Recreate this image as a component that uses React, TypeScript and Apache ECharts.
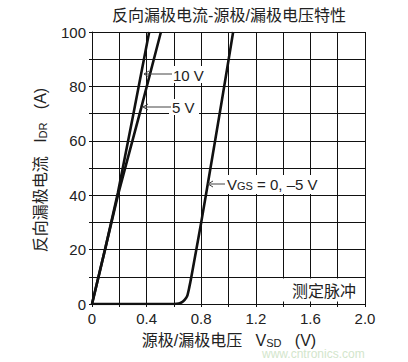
import React, { useEffect, useRef } from 'react';
import * as echarts from 'echarts';

// Reverse drain current I_DR (A) vs source-drain voltage V_SD (V)
const vsd10V = [0, 0.1, 0.19, 0.3, 0.419];
const idr10V = [0, 21, 41, 69, 100];

const vsd5V = [0, 0.1, 0.19, 0.36, 0.505];
const idr5V = [0, 21, 40, 72, 100];

const vsd0V = [0, 0.6, 0.635, 0.66, 0.68, 0.697, 0.713, 0.728, 0.8, 0.868, 0.952, 1.034];
const idr0V = [0, 0, 0.15, 0.7, 1.6, 2.9, 6.2, 10, 30, 50, 75, 100];

const xTickLabels = ['0', '0.4', '0.8', '1.2', '1.6', '2.0'];
const yTickLabels = ['0', '20', '40', '60', '80', '100'];

const FONT = "'Liberation Sans', Arial, 'Noto Sans CJK SC', sans-serif";
const TXT = '#222';

const pair = (xs: number[], ys: number[]) => xs.map((x, i) => [x, ys[i]]);

export default function App() {
  const ref = useRef<HTMLDivElement>(null);
  useEffect(() => {
    document.body.style.margin = '0';
    if (!ref.current) return;
    const chart = echarts.init(ref.current, null, { renderer: 'svg' });
    const lineStyle = { color: '#111', width: 2.6 };
    const arrow = (x1: number, x2: number, y: number) => [
      { type: 'line', shape: { x1, y1: y, x2, y2: y }, style: { stroke: '#444', lineWidth: 1 }, z: 20 },
      { type: 'polyline', shape: { points: [[x2 + 5, y - 3], [x2, y], [x2 + 5, y + 3]] }, style: { stroke: '#444', lineWidth: 1, fill: null }, z: 20 },
    ];
    const bg = (x: number, y: number, w: number, h: number) => ({
      type: 'rect', shape: { x, y, width: w, height: h }, style: { fill: '#fff' }, z: 15,
    });
    const txt = (x: number, y: number, text: string, extra: any = {}) => ({
      type: 'text', x, y, z: 21,
      style: { text, font: `15px ${FONT}`, fill: TXT, align: 'left', verticalAlign: 'middle', ...extra },
    });
    const option: any = {
      animation: false,
      backgroundColor: '#fff',
      grid: { left: 92, top: 32, right: 43, bottom: 58, containLabel: false },
      xAxis: {
        type: 'value', min: 0, max: 2, interval: 0.4,
        axisLine: { show: true, lineStyle: { color: '#111', width: 1 } },
        axisTick: { show: true, length: 3, lineStyle: { color: '#111' } },
        minorTick: { show: true, splitNumber: 2, length: 3, lineStyle: { color: '#111' } },
        splitLine: { show: true, lineStyle: { color: '#111', width: 1 } },
        minorSplitLine: { show: true, lineStyle: { color: '#111', width: 1 } },
        axisLabel: {
          margin: 7, fontSize: 15, fontFamily: FONT, color: TXT,
          formatter: (v: number) => xTickLabels[Math.round(v / 0.4)] ?? '',
        },
      },
      yAxis: {
        type: 'value', min: 0, max: 100, interval: 20,
        axisLine: { show: true, lineStyle: { color: '#111', width: 1 } },
        axisTick: { show: true, length: 3, lineStyle: { color: '#111' } },
        minorTick: { show: true, splitNumber: 2, length: 3, lineStyle: { color: '#111' } },
        splitLine: { show: true, lineStyle: { color: '#111', width: 1 } },
        minorSplitLine: { show: true, lineStyle: { color: '#111', width: 1 } },
        axisLabel: {
          margin: 6, fontSize: 15, fontFamily: FONT, color: TXT,
          formatter: (v: number) => yTickLabels[Math.round(v / 20)] ?? '',
        },
      },
      series: [
        { name: '10 V', type: 'line', data: pair(vsd10V, idr10V), showSymbol: false, lineStyle, z: 5 },
        { name: '5 V', type: 'line', data: pair(vsd5V, idr5V), showSymbol: false, lineStyle, z: 5 },
        { name: 'VGS = 0, -5 V', type: 'line', data: pair(vsd0V, idr0V), showSymbol: false, smooth: 0.25, lineStyle, z: 5 },
      ],
      graphic: [
        {
          type: 'text', x: 229, y: 15, z: 30,
          style: { text: '反向漏极电流-源极/漏极电压特性', font: `16px ${FONT}`, fill: TXT, align: 'center', verticalAlign: 'middle' },
        },
        {
          type: 'text', x: 40, y: 170, rotation: Math.PI / 2, z: 30,
          style: {
            text: '{m|反向漏极电流}    {m|I}{s|DR}    {m|(A)}',
            align: 'center', verticalAlign: 'middle', fill: TXT,
            rich: {
              m: { fontSize: 16, fontFamily: FONT, fill: TXT, color: TXT },
              s: { fontSize: 11, fontFamily: FONT, fill: TXT, color: TXT, verticalAlign: 'bottom' },
            },
          },
        },
        {
          type: 'text', x: 229, y: 340, z: 30,
          style: {
            text: '{m|源极/漏极电压}    {m|V}{s|SD}    {m|(V)}',
            align: 'center', verticalAlign: 'middle', fill: TXT,
            rich: {
              m: { fontSize: 16, fontFamily: FONT, fill: TXT, color: TXT },
              s: { fontSize: 11, fontFamily: FONT, fill: TXT, color: TXT, verticalAlign: 'bottom' },
            },
          },
        },
        bg(170, 66, 36, 17),
        txt(173, 75, '10 V'),
        ...arrow(172, 144, 74),
        bg(169, 99, 30, 16),
        txt(172, 107, '5 V'),
        ...arrow(171, 143, 107),
        bg(212, 175, 113, 19),
        {
          type: 'text', x: 227, y: 184, z: 21,
          style: {
            text: '{m|V}{s|GS}{m| = 0, –5 V}', align: 'left', verticalAlign: 'middle', fill: TXT,
            rich: {
              m: { fontSize: 15, fontFamily: FONT, fill: TXT, color: TXT },
              s: { fontSize: 11, fontFamily: FONT, fill: TXT, color: TXT, verticalAlign: 'bottom' },
            },
          },
        },
        ...arrow(225, 208, 184),
        bg(279, 278.5, 85, 23),
        txt(292, 291, '测定脉冲', { font: `16px ${FONT}` }),
        {
          type: 'text', x: 262, y: 354, z: 1,
          style: { text: 'www.cntronics.com', font: `12px ${FONT}`, fill: '#d3e6cc', align: 'left', verticalAlign: 'middle' },
        },
      ],
    };
    chart.setOption(option);
    return () => chart.dispose();
  }, []);
  return <div ref={ref} style={{ width: 408, height: 362 }} />;
}
